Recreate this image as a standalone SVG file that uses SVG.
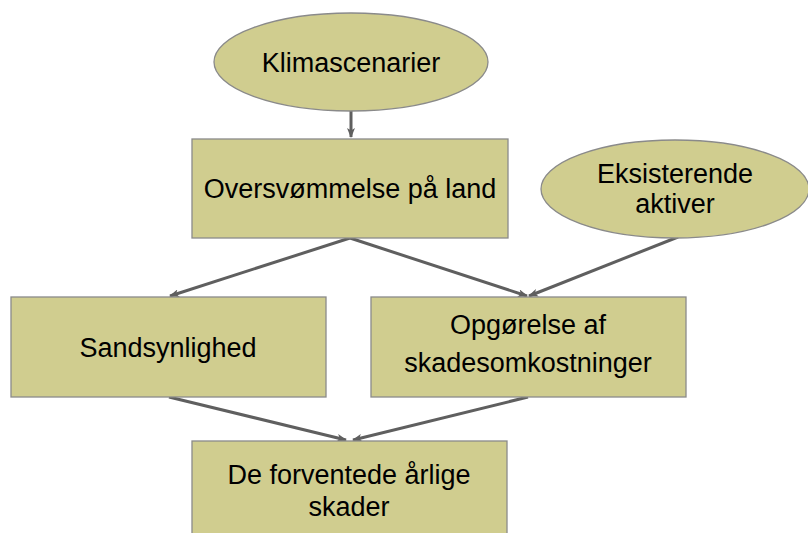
<svg xmlns="http://www.w3.org/2000/svg" width="808" height="533" viewBox="0 0 808 533">
<defs>
<marker id="ah" markerWidth="10" markerHeight="8" refX="9" refY="4" orient="auto" markerUnits="userSpaceOnUse">
<path d="M0,0 L10,4 L0,8 L2.5,4 Z" fill="#5f5f5f"/>
</marker>
<style>
.n{fill:#d0cd8f;stroke:#8a8a8a;stroke-width:1.3}
.t{font-family:"Liberation Sans",Arial,sans-serif;font-size:27px;fill:#000;text-anchor:middle}
.c{stroke:#5f5f5f;stroke-width:3;fill:none;marker-end:url(#ah)}
</style>
</defs>
<rect width="808" height="533" fill="#fff"/>
<g id="connectors">
<line class="c" x1="351" y1="110" x2="351" y2="137"/>
<line class="c" x1="350" y1="238" x2="170" y2="296"/>
<line class="c" x1="350" y1="238" x2="527" y2="296"/>
<line class="c" x1="678" y1="237" x2="529" y2="296"/>
<line class="c" x1="169" y1="397" x2="346" y2="440"/>
<line class="c" x1="528" y1="397" x2="353" y2="440"/>
</g>
<g id="klimascenarier">
<ellipse class="n" cx="351" cy="62" rx="137" ry="49"/>
<text class="t" x="351" y="72">Klimascenarier</text>
</g>
<g id="oversvommelse">
<rect class="n" x="192" y="139" width="316" height="99"/>
<text class="t" x="350" y="198">Oversvømmelse på land</text>
</g>
<g id="eksisterende">
<ellipse class="n" cx="675" cy="189" rx="134" ry="49"/>
<text class="t" x="675" y="183">Eksisterende</text>
<text class="t" x="675" y="213">aktiver</text>
</g>
<g id="sandsynlighed">
<rect class="n" x="11" y="297" width="315" height="100"/>
<text class="t" x="168" y="357">Sandsynlighed</text>
</g>
<g id="opgorelse">
<rect class="n" x="371" y="297" width="315" height="100"/>
<text class="t" x="528" y="334">Opgørelse af</text>
<text class="t" x="528" y="372">skadesomkostninger</text>
</g>
<g id="forventede">
<rect class="n" x="192" y="441" width="315" height="100"/>
<text class="t" x="349" y="484">De forventede årlige</text>
<text class="t" x="349" y="516">skader</text>
</g>
</svg>
